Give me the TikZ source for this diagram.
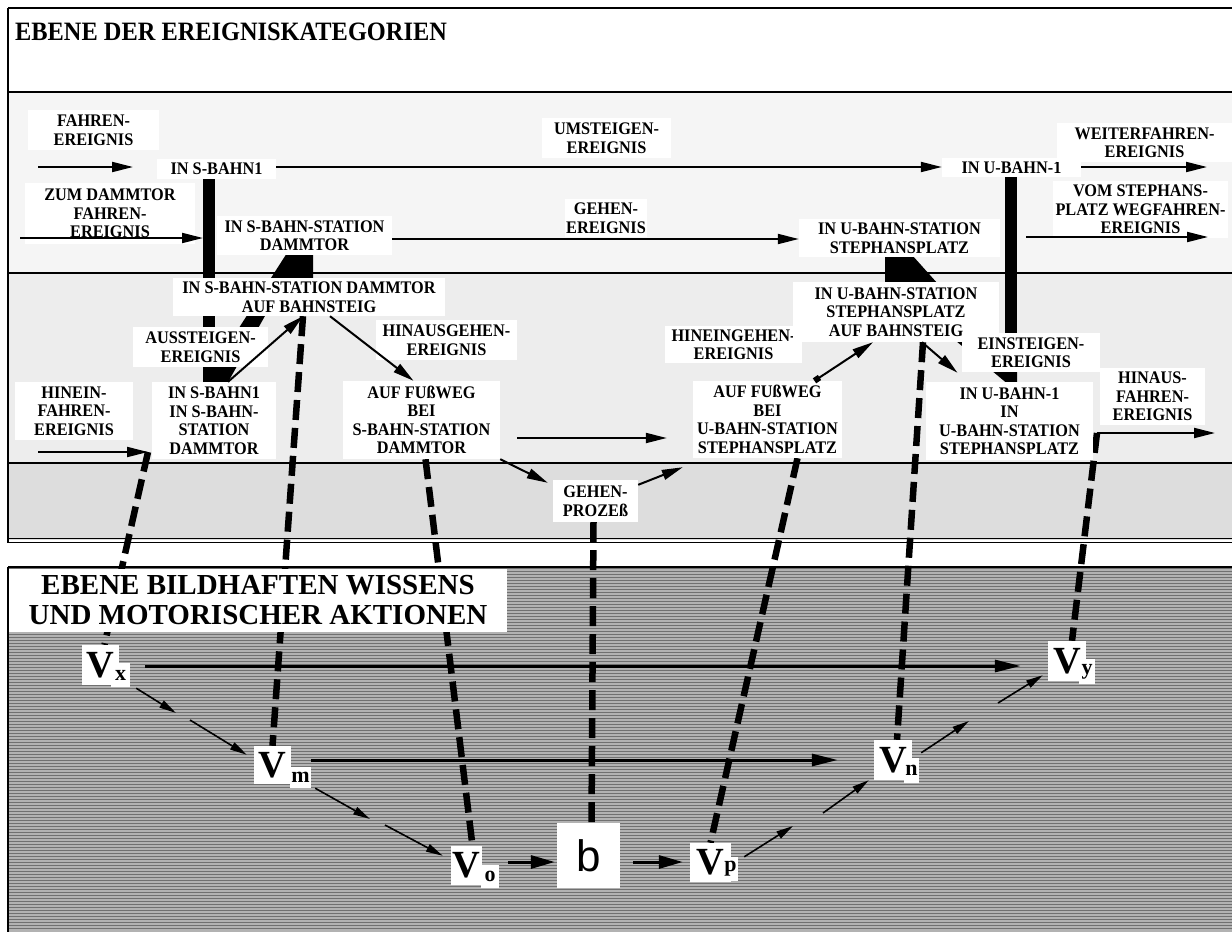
\documentclass[tikz,border=0pt]{standalone}
\usepackage{fontspec}
\setmainfont{Liberation Serif}
\newfontfamily\evfont{Liberation Serif}[FakeStretch=0.92]
\newfontfamily\bfont{Liberation Sans}
\usetikzlibrary{arrows.meta}
\pgfdeclarelayer{bg}
\pgfdeclarelayer{mid}
\pgfsetlayers{bg,mid,main}

\definecolor{bandA}{gray}{0.96}
\definecolor{bandB}{gray}{0.93}
\definecolor{bandC}{gray}{0.865}
\definecolor{stripeL}{gray}{0.70}
\definecolor{stripeD}{gray}{0.44}

\tikzset{
  evbox/.style={fill=white, inner sep=0pt, align=center,
    font=\evfont\bfseries\fontsize{17.7}{18.5}\selectfont},
  tbox/.style={fill=white, inner sep=0pt, align=center,
    font=\bfseries\fontsize{29}{30}\selectfont},
  vbox/.style={fill=white, inner sep=0pt, font=\bfseries\fontsize{38.4}{40}\selectfont},
  sbox/.style={fill=white, inner sep=0pt, font=\bfseries\fontsize{22}{22}\selectfont},
  bbox/.style={fill=white, inner sep=0pt, font=\bfont\fontsize{44}{44}\selectfont},
  evarr/.style={line width=2pt, -{Triangle[length=21pt,width=10pt]}},
  smarr/.style={line width=1.6pt, -{Triangle[length=17pt,width=8pt]}},
  bigarr/.style={line width=3pt, -{Triangle[length=26pt,width=12pt]}},
  barr/.style={line width=3pt, -{Triangle[length=24pt,width=13pt]}},
  linkdash/.style={line width=6.5pt, dash pattern=on 20pt off 8pt},
  bandline/.style={line width=2pt}
}

% box node given by its corners: style, name, x1, y1, x2, y2, text
\newcommand\bnode[7]{\node[#1, minimum width={(#5-#3)*1pt}, minimum height={(#6-#4)*1pt}]
  (#2) at ({(#3+#5)/2},{(#4+#6)/2}) {#7};}

\begin{document}
\begin{tikzpicture}[x=1pt, y=-1pt]
\useasboundingbox (0,0) rectangle (1232,932);

% ---------- background bands ----------
\begin{pgfonlayer}{bg}
  \fill[white] (0,0) rectangle (1232,932);
  \fill[bandA] (8,92) rectangle (1232,273);
  \fill[bandB] (8,273) rectangle (1232,463);
  \fill[bandC] (8,463) rectangle (1232,540);
  \fill[stripeL] (8,567) rectangle (1232,932);
  \foreach \yy in {568.5,571.5,...,931} \draw[stripeD, line width=1.4pt] (8,\yy) -- (1232,\yy);
  \draw[bandline] (8,8) -- (1232,8);
  \draw[bandline] (8,92) -- (1232,92);
  \draw[bandline] (8,273) -- (1232,273);
  \draw[bandline] (8,463) -- (1232,463);
  \draw[line width=1.5pt] (8,538.5) -- (1232,538.5);
  \draw[line width=1.5pt] (8,542.5) -- (1232,542.5);
  \draw[bandline] (8,8) -- (8,542.5);
  \draw[bandline] (8,567) -- (1232,567);
  \draw[bandline] (8,567) -- (8,932);
\end{pgfonlayer}

% ---------- titles ----------
\node[anchor=base west, inner sep=0pt, font=\evfont\bfseries\fontsize{26.5}{28}\selectfont]
  (title1) at (15,40) {EBENE DER EREIGNISKATEGORIEN};
\bnode{tbox}{title2}{9}{569}{507}{632}{EBENE BILDHAFTEN WISSENS\\UND MOTORISCHER AKTIONEN}

% ---------- event category nodes ----------
\bnode{evbox}{fahren}{28}{110}{159}{150}{FAHREN-\\EREIGNIS}
\bnode{evbox}{sbahn1}{157}{159}{276}{179}{IN S-BAHN1}
\bnode{evbox}{zum}{25}{183}{195}{244}{ZUM DAMMTOR\\FAHREN-\\EREIGNIS}
\bnode{evbox}{umst}{542}{118}{671}{158}{UMSTEIGEN-\\EREIGNIS}
\bnode{evbox}{sstat}{217}{216}{392}{255}{IN S-BAHN-STATION\\DAMMTOR}
\bnode{evbox}{gehen}{565}{199}{647}{237}{GEHEN-\\EREIGNIS}
\bnode{evbox}{ustat}{799}{219}{1000}{257}{IN U-BAHN-STATION\\STEPHANSPLATZ}
\bnode{evbox}{ubahn1}{942}{158}{1081}{177}{IN U-BAHN-1}
\bnode{evbox}{weiter}{1057}{123}{1232}{162}{WEITERFAHREN-\\EREIGNIS}
\bnode{evbox}{vom}{1053}{181}{1228}{238}{VOM STEPHANS-\\PLATZ WEGFAHREN-\\EREIGNIS}

\bnode{evbox}{sbst}{173}{278}{445}{316}{IN S-BAHN-STATION DAMMTOR\\AUF BAHNSTEIG}
\bnode{evbox}{ausst}{133}{327}{268}{367}{AUSSTEIGEN-\\EREIGNIS}
\bnode{evbox}{hinaus}{376}{320}{517}{360}{HINAUSGEHEN-\\EREIGNIS}
\bnode{evbox}{hinein}{15}{382}{133}{440}{HINEIN-\\FAHREN-\\EREIGNIS}
\bnode{evbox}{sbstat}{152}{382}{276}{459}{IN S-BAHN1\\IN S-BAHN-\\STATION\\DAMMTOR}
\bnode{evbox}{fussS}{343}{381}{500}{459}{AUF FUßWEG\\BEI\\S-BAHN-STATION\\DAMMTOR}
\bnode{evbox}{hineing}{665}{326}{802}{363}{HINEINGEHEN-\\EREIGNIS}
\bnode{evbox}{fussU}{693}{381}{842}{458}{AUF FUßWEG\\BEI\\U-BAHN-STATION\\STEPHANSPLATZ}
\bnode{evbox}{ubst}{793}{282}{999}{342}{IN U-BAHN-STATION\\STEPHANSPLATZ\\AUF BAHNSTEIG}
\bnode{evbox}{einst}{962}{333}{1100}{372}{EINSTEIGEN-\\EREIGNIS}
\bnode{evbox}{ubstat}{926}{382}{1093}{460}{IN U-BAHN-1\\IN\\U-BAHN-STATION\\STEPHANSPLATZ}
\bnode{evbox}{hinausf}{1100}{368}{1205}{425}{HINAUS-\\FAHREN-\\EREIGNIS}
\bnode{evbox}{gproz}{553}{480}{638}{522}{GEHEN-\\PROZEß}

% ---------- pictorial level nodes ----------
\bnode{vbox}{vx}{82}{645}{119}{685}{V}
\bnode{sbox}{vxs}{111}{663}{130}{687}{x}
\bnode{vbox}{vm}{254}{746}{291}{784}{V}
\bnode{sbox}{vms}{290}{767}{311}{788}{m}
\bnode{vbox}{vo}{451}{846}{482}{885}{V}
\bnode{sbox}{vos}{481}{865}{499}{888}{o}
\bnode{bbox}{b}{557}{823}{620}{888}{b}
\bnode{vbox}{vp}{690}{843}{731}{882}{V}
\bnode{sbox}{vps}{723}{857}{738}{881}{p}
\bnode{vbox}{vn}{874}{740}{912}{780}{V}
\bnode{sbox}{vns}{904}{758}{919}{783}{n}
\bnode{vbox}{vy}{1048}{641}{1086}{681}{V}
\bnode{sbox}{vys}{1079}{659}{1095}{684}{y}

% ---------- free arrow ends and breaks ----------
\coordinate (fa0) at (38,167);   \coordinate (fa1) at (133,167);
\coordinate (wf)  at (1207,167);
\coordinate (zm0) at (20,238);   \coordinate (zm1) at (203,238);
\coordinate (vm0) at (1026,237); \coordinate (vm1) at (1208,237);
\coordinate (hn0) at (38,452);   \coordinate (hn1) at (148,452);
\coordinate (hf0) at (1097,433); \coordinate (hf1) at (1215,433);
\coordinate (k1) at (176,713);   \coordinate (k2) at (190,720);
\coordinate (k3) at (370,819);   \coordinate (k4) at (385,825);
\coordinate (k5) at (793,826);   \coordinate (k6) at (823,813);
\coordinate (k7) at (969,721);   \coordinate (k8) at (998,703);

% ---------- thick bars and links beneath the boxes ----------
\begin{pgfonlayer}{mid}
  \draw[line width=12pt] ([xshift=-7.5pt]sbahn1.south) -- ([xshift=-5pt]sbstat.north);
  \draw[line width=12pt] ([xshift=-0.5pt]ubahn1.south) -- ([xshift=1.5pt]ubstat.north);
  \fill (287,253) -- (313,253) -- (313,280) -- (285,280) -- (227,384) -- (203,384) -- cycle;
  \fill (885,255) -- (912,255) -- (1017,372) -- (1017,385) -- (1009,385) -- (885,282) -- cycle;
  \draw[linkdash] (hn1) -- ([xshift=4pt]vx.north);
  \draw[linkdash] ([xshift=-6pt]sbst.south) -- (vm.north);
  \draw[linkdash] ([xshift=4pt]fussS.south) -- ([xshift=6pt]vo.north);
  \draw[linkdash] ([xshift=-2pt]gproz.south) -- ([xshift=3pt]b.north);
  \draw[linkdash] ([xshift=30pt]fussU.south) -- (vp.north);
  \draw[linkdash] ([xshift=27pt]ubst.south) -- ([xshift=4pt]vn.north);
  \draw[linkdash] (hf0) -- ([xshift=5pt]vy.north);
\end{pgfonlayer}

% ---------- event arrows ----------
\draw[evarr] (fa0) -- (fa1);
\draw[evarr] (sbahn1.east |- 0,167) -- (ubahn1.west |- 0,167);
\draw[evarr] (ubahn1.east |- 0,167) -- (wf);
\draw[evarr] (zm0) -- (zm1);
\draw[evarr] (sstat.east |- 0,239) -- (ustat.west |- 0,239);
\draw[evarr] (vm0) -- (vm1);
\draw[evarr] (hn0) -- (hn1);
\draw[evarr] ([xshift=14pt]sbstat.north) -- ([xshift=-6pt]sbst.south);
\draw[evarr] ([xshift=21pt]sbst.south) -- ([xshift=-8pt]fussS.north);
\draw[evarr, shorten <=17pt, shorten >=26pt] (fussS.east |- 0,438) -- (fussU.west |- 0,438);
\draw[evarr] (fussS.south east) -- ([shift={(-5pt,-3pt)}]gproz.north west);
\draw[evarr] ([yshift=-5pt]gproz.north east) -- ([shift={(-10pt,-9pt)}]fussU.south west);
\draw[line width=2pt, {Square[length=6pt,width=6pt]}-{Triangle[length=21pt,width=10pt]}]
  ([xshift=47pt]fussU.north) -- ([xshift=-23pt]ubst.south);
\draw[evarr] ([xshift=26pt]ubst.south) -- ([shift={(-52pt,9pt)}]ubstat.north);
\draw[evarr] (hf0) -- (hf1);

% ---------- pictorial arrows ----------
\draw[bigarr, shorten <=15pt, shorten >=27pt] (vxs.east |- 0,666) -- (vy.west |- 0,666);
\draw[bigarr, shorten >=36pt] (vms.east |- 0,760) -- (vn.west |- 0,760);
\draw[smarr] ([shift={(6pt,-1pt)}]vxs.south east) -- (k1);
\draw[smarr] (k2) -- ([shift={(-7pt,-9pt)}]vm.north west);
\draw[smarr] ([xshift=4pt]vms.south east) -- (k3);
\draw[smarr] (k4) -- ([shift={(-8pt,-10pt)}]vo.north west);
\draw[barr, shorten <=9pt, shorten >=2pt] (vos.east |- 0,862) -- (b.west |- 0,862);
\draw[barr, shorten <=13pt, shorten >=7pt] (b.east |- 0,862) -- (vp.west |- 0,862);
\draw[smarr] ([xshift=6pt]vps.north east) -- (k5);
\draw[smarr] (k6) -- ([xshift=-5pt]vn.south west);
\draw[smarr] ([shift={(2pt,5pt)}]vns.north east) -- (k7);
\draw[smarr] (k8) -- ([shift={(-5pt,6pt)}]vy.south west);
\end{tikzpicture}
\end{document}
